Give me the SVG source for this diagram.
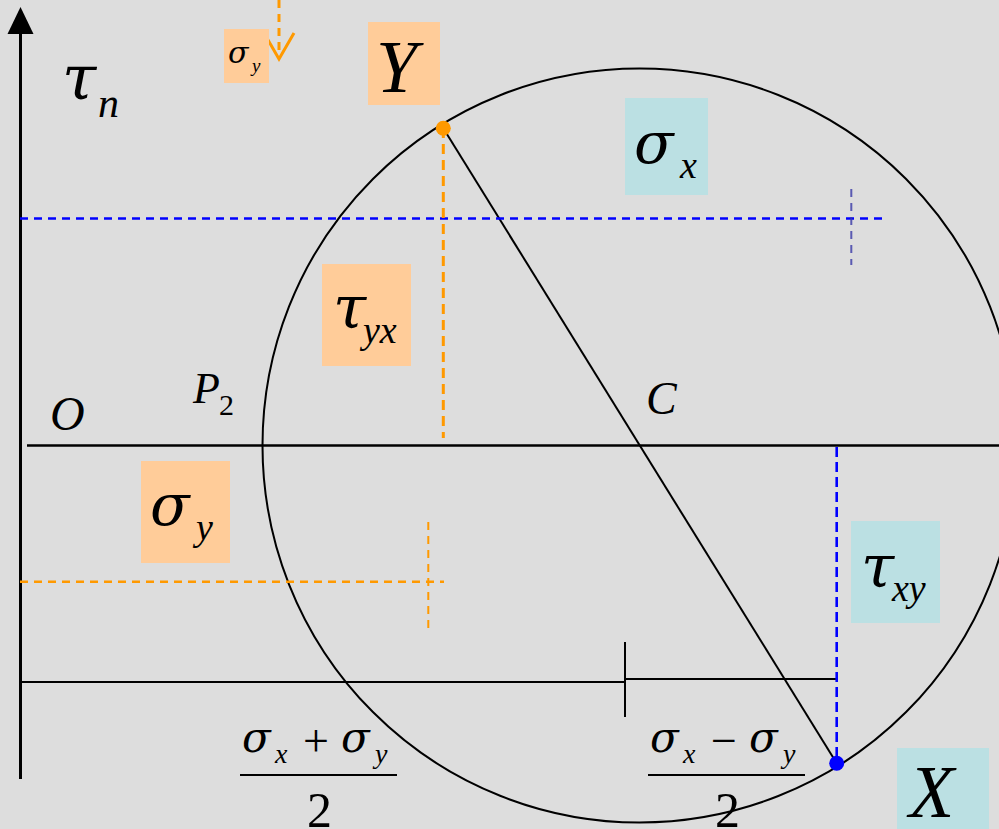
<svg xmlns="http://www.w3.org/2000/svg" width="999" height="829" viewBox="0 0 999 829">
<style>
.t{font-family:"Liberation Serif","DejaVu Serif",serif;font-style:italic;fill:#000}
.g{font-family:"DejaVu Serif","Liberation Serif",serif;font-style:italic;fill:#000}
.u{font-family:"Liberation Serif","DejaVu Serif",serif;font-style:normal;fill:#000}
.ob{fill:#FFCC99}
.cb{fill:#BBE0E3}
.blk{stroke:#000;fill:none}
.od{stroke:#FF9900;fill:none;stroke-dasharray:8 6}
.bd{stroke:#0000FF;fill:none;stroke-dasharray:8 6}
</style>
<rect width="999" height="829" fill="#DDDDDD"/>
<g id="connectors">
<line x1="20.5" y1="30" x2="20.5" y2="779" class="blk" stroke-width="3"/>
<polygon points="20.5,7 7.5,34 33.5,34" fill="#000"/>
<line x1="27" y1="445.5" x2="999" y2="445.5" class="blk" stroke-width="2.5"/>
<circle cx="639.5" cy="445.5" r="377" class="blk" stroke-width="2"/>
<line x1="443.3" y1="128.3" x2="836.7" y2="763.3" class="blk" stroke-width="2"/>
<line x1="20" y1="682" x2="625" y2="682" class="blk" stroke-width="2"/>
<line x1="625" y1="642" x2="625" y2="717" class="blk" stroke-width="2"/>
<line x1="625" y1="679" x2="836.7" y2="679" class="blk" stroke-width="2"/>
<line x1="20" y1="218.5" x2="882" y2="218.5" class="bd" stroke-width="2.5"/>
<line x1="851.3" y1="189" x2="851.3" y2="265" stroke="#3A3AA8" stroke-opacity="0.8" stroke-width="2" stroke-dasharray="8 6"/>
<line x1="836.7" y1="447" x2="836.7" y2="763" stroke="#0000FF" stroke-width="2.6" stroke-dasharray="10 5"/>
<line x1="443.3" y1="128" x2="443.3" y2="438" stroke="#FF9900" stroke-width="3" stroke-dasharray="10 6"/>
<line x1="20" y1="581.7" x2="444" y2="581.7" class="od" stroke-width="2.5"/>
<line x1="428.3" y1="522" x2="428.3" y2="628" class="od" stroke-width="2"/>
<line x1="279" y1="0" x2="279" y2="57" class="od" stroke-width="3" stroke-dasharray="10 6"/>
<polyline points="264,33 279,59 294,33" stroke="#FF9900" stroke-width="3" fill="none"/>
<circle cx="443.3" cy="128.3" r="7.5" fill="#FF9900"/>
<circle cx="836.7" cy="763.3" r="7.5" fill="#0000FF"/>
<line x1="240" y1="775" x2="397" y2="775" class="blk" stroke-width="2"/>
<line x1="648" y1="775" x2="805" y2="775" class="blk" stroke-width="2"/>
</g>
<g id="tau-n"><text class="g" x="62" y="99" font-size="62">τ</text><text class="t" x="98" y="117" font-size="42">n</text></g>
<g id="sigma-y-small"><rect class="ob" x="224" y="29" width="45" height="54"/><text class="g" x="228" y="63" font-size="30">σ</text><text class="t" x="252" y="72" font-size="19">y</text></g>
<g id="label-Y"><rect class="ob" x="368" y="22" width="72" height="83"/><text class="t" x="376" y="92" font-size="74">Y</text></g>
<g id="sigma-x"><rect class="cb" x="625" y="98" width="83" height="97"/><text class="g" x="634" y="163" font-size="58">σ</text><text class="t" x="680" y="178" font-size="38">x</text></g>
<g id="tau-yx"><rect class="ob" x="322" y="264" width="89" height="102"/><text class="g" x="333" y="328" font-size="60">τ</text><text class="t" x="363" y="343" font-size="38">yx</text></g>
<g id="label-O"><text class="t" x="50" y="430" font-size="48">O</text></g>
<g id="label-P2"><text class="t" x="193" y="403" font-size="44">P</text><text class="u" x="219" y="415" font-size="30">2</text></g>
<g id="label-C"><text class="t" x="646" y="414" font-size="46">C</text></g>
<g id="sigma-y"><rect class="ob" x="141" y="461" width="89" height="102"/><text class="g" x="150" y="525" font-size="58">σ</text><text class="t" x="196" y="540" font-size="38">y</text></g>
<g id="tau-xy"><rect class="cb" x="851" y="521" width="89" height="102"/><text class="g" x="861" y="587" font-size="60">τ</text><text class="t" x="892" y="601" font-size="38">xy</text></g>
<g id="frac-sum"><text class="g" x="242" y="752" font-size="42">σ</text><text class="t" x="275" y="763" font-size="28">x</text><text class="u" x="303" y="756" font-size="46">+</text><text class="g" x="341" y="752" font-size="42">σ</text><text class="t" x="375" y="763" font-size="28">y</text><text class="u" x="307" y="827" font-size="50">2</text></g>
<g id="frac-diff"><text class="g" x="650" y="752" font-size="42">σ</text><text class="t" x="683" y="763" font-size="28">x</text><text class="u" x="711" y="756" font-size="46">−</text><text class="g" x="749" y="752" font-size="42">σ</text><text class="t" x="783" y="763" font-size="28">y</text><text class="u" x="715" y="827" font-size="50">2</text></g>
<g id="label-X"><rect class="cb" x="897" y="748" width="92" height="81"/><text class="t" x="909" y="817" font-size="74">X</text></g>
</svg>
